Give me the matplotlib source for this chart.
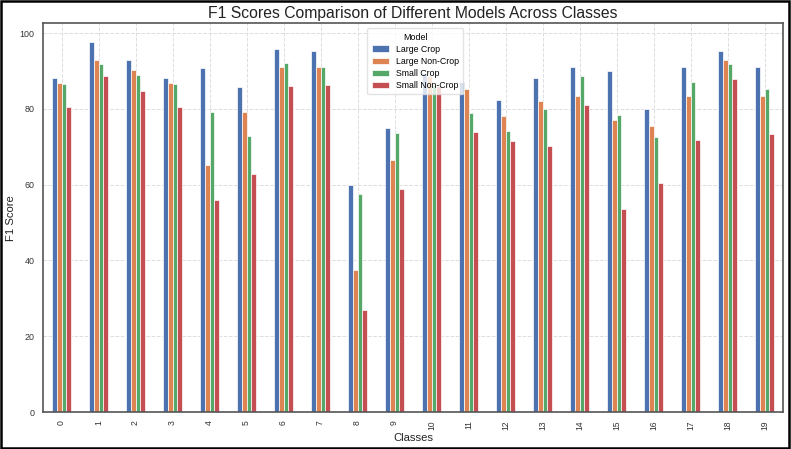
import matplotlib
matplotlib.use("Agg")
import matplotlib.pyplot as plt
import numpy as np
from matplotlib.patches import Rectangle

classes = [str(i) for i in range(20)]
models = ["Large Crop", "Large Non-Crop", "Small Crop", "Small Non-Crop"]
large_crop = [88.2, 97.7, 93.0, 88.2, 90.8, 85.8, 95.9, 95.3, 60.0, 74.9,
              89.5, 87.2, 82.4, 88.2, 91.0, 89.9, 79.9, 91.1, 95.3, 91.1]
large_noncrop = [86.8, 92.8, 90.4, 86.8, 65.3, 79.2, 91.0, 91.1, 37.6, 66.6,
                 88.6, 85.2, 78.1, 82.0, 83.4, 77.1, 75.5, 83.3, 92.8, 83.4]
small_crop = [86.5, 91.9, 88.9, 86.5, 79.1, 72.8, 92.2, 91.1, 57.5, 73.6,
              86.2, 78.9, 74.1, 79.9, 88.7, 78.5, 72.6, 87.2, 91.9, 85.2]
small_noncrop = [80.5, 88.6, 84.7, 80.5, 55.9, 62.8, 86.1, 86.3, 27.0, 59.0,
                 86.0, 74.0, 71.5, 70.2, 81.0, 53.5, 60.4, 71.8, 87.9, 73.4]
series = [large_crop, large_noncrop, small_crop, small_noncrop]
colors = ["#4C72B0", "#DD8452", "#55A868", "#C44E52"]

plt.rcParams["font.family"] = ["Liberation Sans", "DejaVu Sans"]

fig = plt.figure(figsize=(7.91, 4.49), dpi=100)
ax = fig.add_axes([0.0544, 0.0824, 0.9356, 0.8656])

x = np.arange(len(classes))
w = 0.125
for i, (vals, c, name) in enumerate(zip(series, colors, models)):
    ax.bar(x + (i - 1.5) * w, vals, width=w, color=c, edgecolor="white",
           linewidth=0.5, label=name, zorder=2)

ax.set_xlim(-0.5, 19.5)
ax.set_ylim(0, 102.6)
ax.set_yticks([0, 20, 40, 60, 80, 100])
ax.set_xticks(x)
ax.set_xticklabels(classes, rotation=90, fontsize=6.2, color="#333333")
ax.tick_params(axis="y", labelsize=6.4, labelcolor="#333333", length=0, pad=6)
ax.tick_params(axis="x", length=0, pad=6)
ax.grid(True, linestyle="--", color="#dddddd", linewidth=0.7, zorder=0)
ax.set_axisbelow(True)
for s in ax.spines.values():
    s.set_color("#555555")
    s.set_linewidth(1.2)

ax.set_title("F1 Scores Comparison of Different Models Across Classes",
             fontsize=11.3, color="#222222", pad=4)
ax.set_xlabel("Classes", fontsize=8.1, color="#222222", labelpad=2)
ax.set_ylabel("F1 Score", fontsize=8.1, color="#222222", labelpad=3)

leg = ax.legend(title="Model", fontsize=6.3, title_fontsize=6.4,
                loc="upper left", bbox_to_anchor=(0.438, 0.987),
                borderaxespad=0,
                frameon=True, framealpha=0.8, edgecolor="#dddddd",
                handlelength=2.0, handleheight=0.8, borderpad=0.5,
                labelspacing=0.35)

fig.patches.append(Rectangle((0.001, 0.002), 0.996, 0.995, transform=fig.transFigure,
                             fill=False, edgecolor="black", linewidth=1.8))

fig.savefig("out.png", dpi=100)
